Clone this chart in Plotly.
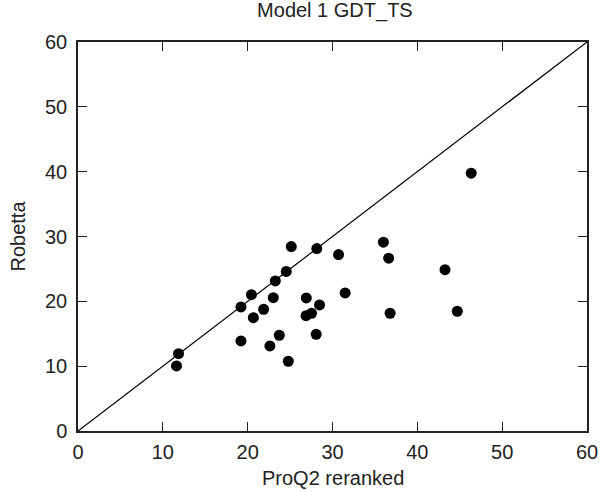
import plotly.graph_objects as go

proq2_reranked = [11.85, 11.61, 19.21, 19.21, 20.44, 20.67, 21.88, 23.02, 23.26, 24.55,
                  25.14, 22.62, 23.73, 24.79, 28.15, 26.91, 26.88, 27.53, 28.47, 28.08,
                  30.71, 31.49, 36.0, 36.62, 36.79, 43.26, 44.71, 46.35]
robetta = [11.93, 10.03, 19.14, 13.89, 21.03, 17.48, 18.78, 20.57, 23.15, 24.61,
           28.44, 13.12, 14.77, 10.76, 28.13, 20.52, 17.78, 18.16, 19.44, 14.92,
           27.21, 21.30, 29.12, 26.65, 18.16, 24.89, 18.47, 39.77]
diag = [0, 60]
tick_vals = [0, 10, 20, 30, 40, 50, 60]

font = "Liberation Sans, Arial, Helvetica, sans-serif"
txt = "#222"

L, R, T, B = 78, 13, 42, 61
W, H = 600, 492
pw, ph = W - L - R, H - T - B

fig = go.Figure()
fig.add_trace(go.Scatter(x=diag, y=diag, mode="lines",
                         line=dict(color="black", width=1.2), hoverinfo="skip"))
fig.add_trace(go.Scatter(x=proq2_reranked, y=robetta, mode="markers",
                         marker=dict(color="black", size=11)))

axis_common = dict(range=[0, 60], tickvals=tick_vals, ticks="inside", ticklen=9,
                   tickwidth=1.2, tickcolor=txt, showline=True, linecolor=txt,
                   linewidth=1.5, mirror="ticks", showgrid=False, zeroline=False,
                   automargin=False,
                   tickfont=dict(size=20, color=txt, family=font))

fig.update_layout(
    width=W, height=H,
    margin=dict(l=L, r=R, t=T, b=B),
    paper_bgcolor="white", plot_bgcolor="white",
    showlegend=False,
    title=dict(text="Model 1 GDT_TS", x=(L + (W - R)) / 2 / W + 0.004, xanchor="center",
               y=1 - 10 / H, yanchor="middle",
               font=dict(size=20, color=txt, family=font)),
    xaxis=dict(axis_common, ticklabelstandoff=2),
    yaxis=dict(axis_common, ticklabelstandoff=5),
    annotations=[
        dict(text="ProQ2 reranked", xref="paper", yref="paper",
             x=0.5, y=(T + ph - 478) / ph, xanchor="center", yanchor="middle",
             showarrow=False, font=dict(size=20, color=txt, family=font)),
        dict(text="Robetta", xref="paper", yref="paper", textangle=-90,
             x=(17 - L) / pw, y=0.5, xanchor="center", yanchor="middle",
             showarrow=False, font=dict(size=20, color=txt, family=font)),
    ],
)

fig.write_html("out.html", config={"displayModeBar": False},
               post_script="document.body.style.margin='0';")
